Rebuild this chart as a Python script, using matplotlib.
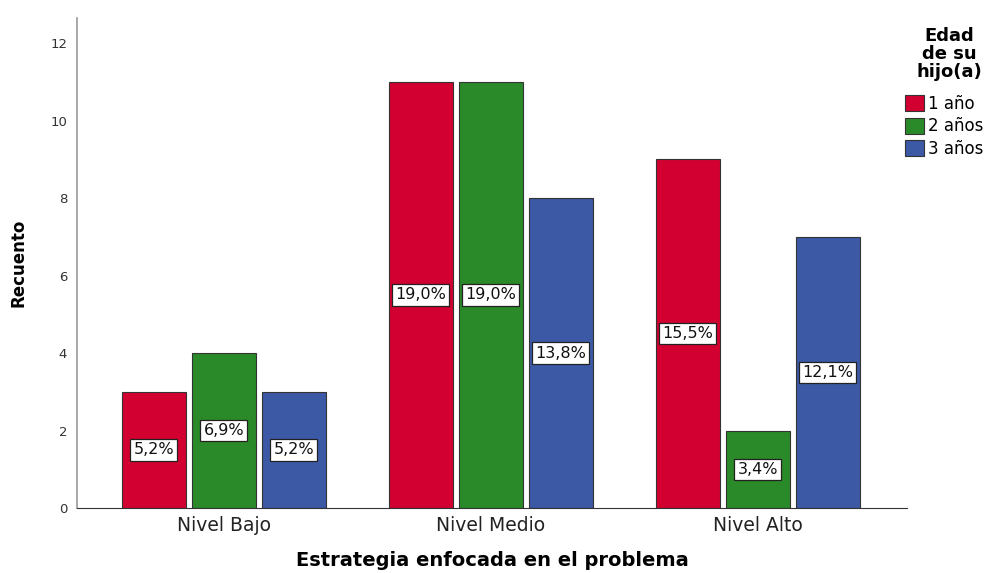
import matplotlib.pyplot as plt
import numpy as np

plt.rcParams['font.family'] = ['DejaVu Sans']

categories = ['Nivel Bajo', 'Nivel Medio', 'Nivel Alto']
series = ['1 año', '2 años', '3 años']
counts_1 = [3, 11, 9]
counts_2 = [4, 11, 2]
counts_3 = [3, 8, 7]
pct_1 = ['5,2%', '19,0%', '15,5%']
pct_2 = ['6,9%', '19,0%', '3,4%']
pct_3 = ['5,2%', '13,8%', '12,1%']
colors = ['#d20030', '#2a8a2a', '#3c59a6']


def main():
    fig = plt.figure(figsize=(9.86, 5.73), dpi=100)
    ax = fig.add_axes([0.078, 0.1134, 0.842, 0.8552])

    x = np.arange(len(categories))
    width = 0.24
    step = 0.262
    all_counts = [counts_1, counts_2, counts_3]
    all_pcts = [pct_1, pct_2, pct_3]
    for i, (vals, pcts) in enumerate(zip(all_counts, all_pcts)):
        pos = x + (i - 1) * step
        ax.bar(pos, vals, width, color=colors[i], edgecolor='#333333',
               linewidth=0.8, label=series[i], zorder=2)
        for p, v, t in zip(pos, vals, pcts):
            ax.text(p, v / 2, t, ha='center', va='center', fontsize=11.5,
                    color='#111111', zorder=3,
                    bbox=dict(boxstyle='square,pad=0.2', facecolor='white',
                              edgecolor='#222222', linewidth=0.9))

    ax.set_xlim(-0.55, 2.56)
    ax.set_ylim(0, 12.65)
    ax.set_yticks(range(0, 13, 2))
    ax.set_xticks(x)
    ax.set_xticklabels(categories, fontsize=13.5, color='#222222')
    ax.tick_params(axis='x', length=0, pad=6)
    ax.tick_params(axis='y', length=0, labelsize=9.5, labelcolor='#333333', pad=7)
    for s in ['top', 'right']:
        ax.spines[s].set_visible(False)
    ax.spines['left'].set_color('#999999')
    ax.spines['left'].set_linewidth(1.2)
    ax.spines['bottom'].set_color('#333333')

    ax.set_ylabel('Recuento', fontsize=12, fontweight='bold', labelpad=16)
    ax.set_xlabel('Estrategia enfocada en el problema', fontsize=14,
                  fontweight='bold', labelpad=11)

    leg = fig.legend(loc='upper left', bbox_to_anchor=(0.918, 0.835),
                     frameon=False, fontsize=12, handlelength=1.15,
                     handleheight=1.1, handletextpad=0.2, labelspacing=0.28,
                     borderaxespad=0, borderpad=0)
    for h in leg.legend_handles:
        h.set_edgecolor('#333333')
    fig.text(0.963, 0.953, 'Edad\nde su\nhijo(a)', ha='center', va='top',
             fontsize=13, fontweight='bold', linespacing=1.0)

    fig.savefig('out.png', dpi=100)
    plt.close(fig)


if __name__ == '__main__':
    main()
